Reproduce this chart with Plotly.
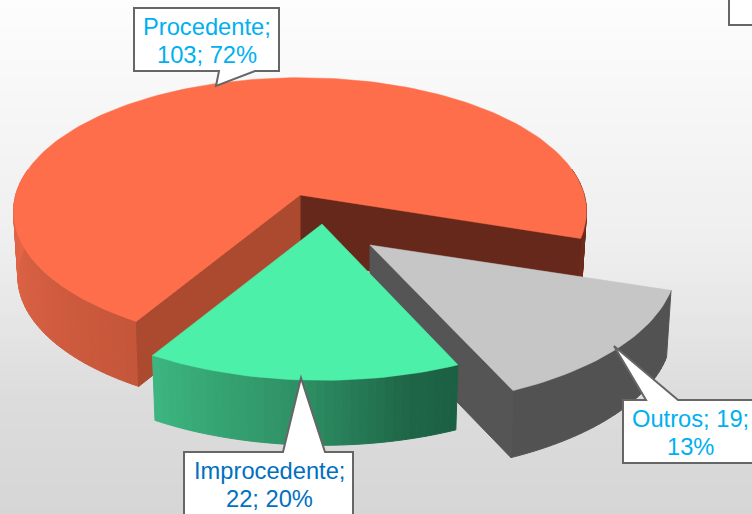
import math
import plotly.graph_objects as go

# ---- data ----
categories = ["Outros", "Improcedente", "Procedente"]
values = [19, 22, 103]
percent_labels = [13, 20, 72]
label_break_after = [2, 1, 1]   # fields on the first line of each label

# ---- geometry and style ----
W, H = 752, 514
START_DEG = 18.0
RX, RY, PERSP = 276.0, 128.0, 0.12
BOTTOM_SHRINK = 0.985
STYLE = {
    "Procedente": dict(vertex=(300, 195), scale=1.03, rot=0.5, depth=65, top="#ff6e4a",
                       stops=[(-10, "#6d2c1d"), (19, "#6d2c1d"), (30, "#a8482e"), (121, "#c5563a"), (190, "#e8694a")],
                       wall_start="#ac4a30", wall_end="#66281b"),
    "Improcedente": dict(vertex=(322, 224), scale=1.065, rot=0.4, depth=65, top="#4cf0a8",
                         stops=[(60, "#1b5c40"), (75, "#1f6648"), (93, "#2e8f64"), (122, "#3db882")],
                         wall_start=None, wall_end=None),
    "Outros": dict(vertex=(370, 245), scale=1.10, rot=0.0, depth=67, top="#c6c6c6",
                   stops=[(0, "#525252"), (90, "#525252")],
                   wall_start=None, wall_end="#555555"),
}
CALLOUT_LINE, CALLOUT_W = "#666666", 2
TEXT_COL = {"Procedente": "#00b0f0", "Improcedente": "#0070c0", "Outros": "#00b0f0"}
LABEL_POS = {"Procedente": (207, 27, 55), "Improcedente": (269, 471, 499), "Outros": (690, 419, 447)}
BOX_PATHS = [
    "M134,8 H279 V71 H255 L216,86 L219,71 H134 Z",
    "M184,452 H283 L301,378 L325,452 H353 V530 H184 Z",
    "M623,400 H646 L614,346 L678,400 H770 V463 H623 Z",
    "M729,-5 H770 V25 H729 Z",
]
BG_STOPS = [(0, 253), (100, 247), (250, 238), (400, 220), (514, 214)]


def hex2rgb(h):
    return tuple(int(h[i:i + 2], 16) for i in (1, 3, 5))


def stop_color(stops, a):
    a = max(stops[0][0], min(stops[-1][0], a))
    for (a0, c0), (a1, c1) in zip(stops, stops[1:]):
        if a0 <= a <= a1:
            t = (a - a0) / (a1 - a0 or 1)
            p, q = hex2rgb(c0), hex2rgb(c1)
            return "rgb(%d,%d,%d)" % tuple(p[i] + (q[i] - p[i]) * t for i in range(3))
    return stops[-1][1]


def project(style, deg, r=1.0, bottom=False):
    vx, vy = style["vertex"]
    u = r * style["scale"] * math.cos(math.radians(deg))
    v = r * style["scale"] * math.sin(math.radians(deg))
    den = 1 - PERSP * v
    x, y = RX * u / den, RY * v / den
    if bottom:
        return vx + x * BOTTOM_SHRINK, vy + y + style["depth"]
    return vx + x, vy + y


def poly(points, color, width=1.0):
    xs = [p[0] for p in points] + [points[0][0]]
    ys = [p[1] for p in points] + [points[0][1]]
    return go.Scatter(x=xs, y=ys, mode="lines", fill="toself", fillcolor=color,
                      line=dict(color=color, width=width), hoverinfo="skip", showlegend=False)


def frange(a, b, n):
    return [a + (b - a) * i / n for i in range(n + 1)]


total = sum(values)
wedges = {}
ang = START_DEG
for name, val in zip(categories, values):
    wedges[name] = (ang, ang + 360.0 * val / total)
    ang = wedges[name][1]

traces = []
ys_bg = list(range(0, H + 1, 3))


def bg_level(y):
    for (y0, g0), (y1, g1) in zip(BG_STOPS, BG_STOPS[1:]):
        if y0 <= y <= y1:
            return g0 + (g1 - g0) * (y - y0) / (y1 - y0)
    return BG_STOPS[-1][1]


traces.append(go.Heatmap(x=[0, W], y=ys_bg, z=[[bg_level(y)] * 2 for y in ys_bg], zmin=0, zmax=255,
                         colorscale=[[0, "#000000"], [1, "#ffffff"]], showscale=False, hoverinfo="skip"))

for name in ["Procedente", "Outros", "Improcedente"]:
    st = STYLE[name]
    a0, a1 = wedges[name]
    a0 += st["rot"]
    a1 += st["rot"]
    centre_top = project(st, 0, 0)
    centre_bot = project(st, 0, 0, True)
    # outer rim facets
    n = int(round((a1 - a0) / 1.5))
    angs = frange(a0, a1, n)
    for p, q in zip(angs, angs[1:]):
        mid = (p + q) / 2
        m = (mid + 180) % 360 - 180
        if math.sin(math.radians(mid)) < -0.2:
            continue
        key = m if m > -20 else m + 360
        pts = [project(st, p), project(st, q), project(st, q, bottom=True), project(st, p, bottom=True)]
        traces.append(poly(pts, stop_color(st["stops"], key)))
    # straight cut walls that face the viewer
    if st["wall_end"]:
        traces.append(poly([centre_top, project(st, a1), project(st, a1, bottom=True), centre_bot], st["wall_end"]))
    if st["wall_start"]:
        traces.append(poly([centre_top, project(st, a0), project(st, a0, bottom=True), centre_bot], st["wall_start"]))
    # top face
    n = int(round((a1 - a0) / 1.5))
    pts = [centre_top] + [project(st, a) for a in frange(a0, a1, n)]
    traces.append(poly(pts, st["top"], 0.5))

fig = go.Figure(traces)

shapes = [dict(type="path", path=p, xref="x", yref="y", fillcolor="#ffffff",
               line=dict(color=CALLOUT_LINE, width=CALLOUT_W), layer="above") for p in BOX_PATHS]

annotations = []
for name, val, pct, brk in zip(categories, values, percent_labels, label_break_after):
    fields = [f"{name};", f"{val};", f"{pct}%"]
    lines = [" ".join(fields[:brk]), " ".join(fields[brk:])]
    cx, y1, y2 = LABEL_POS[name]
    for line, y in zip(lines, (y1, y2)):
        annotations.append(dict(x=cx, y=y, xref="x", yref="y", text=line, showarrow=False,
                                xanchor="center", yanchor="middle",
                                font=dict(family="Liberation Sans, Arial, sans-serif", size=23.7, color=TEXT_COL[name])))

fig.update_layout(
    width=W, height=H, margin=dict(l=0, r=0, t=0, b=0), autosize=False,
    paper_bgcolor="#f0f0f0", plot_bgcolor="#f0f0f0", showlegend=False,
    xaxis=dict(range=[0, W], visible=False, fixedrange=True),
    yaxis=dict(range=[H, 0], visible=False, fixedrange=True),
    shapes=shapes, annotations=annotations,
)
fig.write_html("out.html", config=dict(displayModeBar=False),
               post_script="document.documentElement.style.overflow='hidden';document.body.style.margin='0';")
